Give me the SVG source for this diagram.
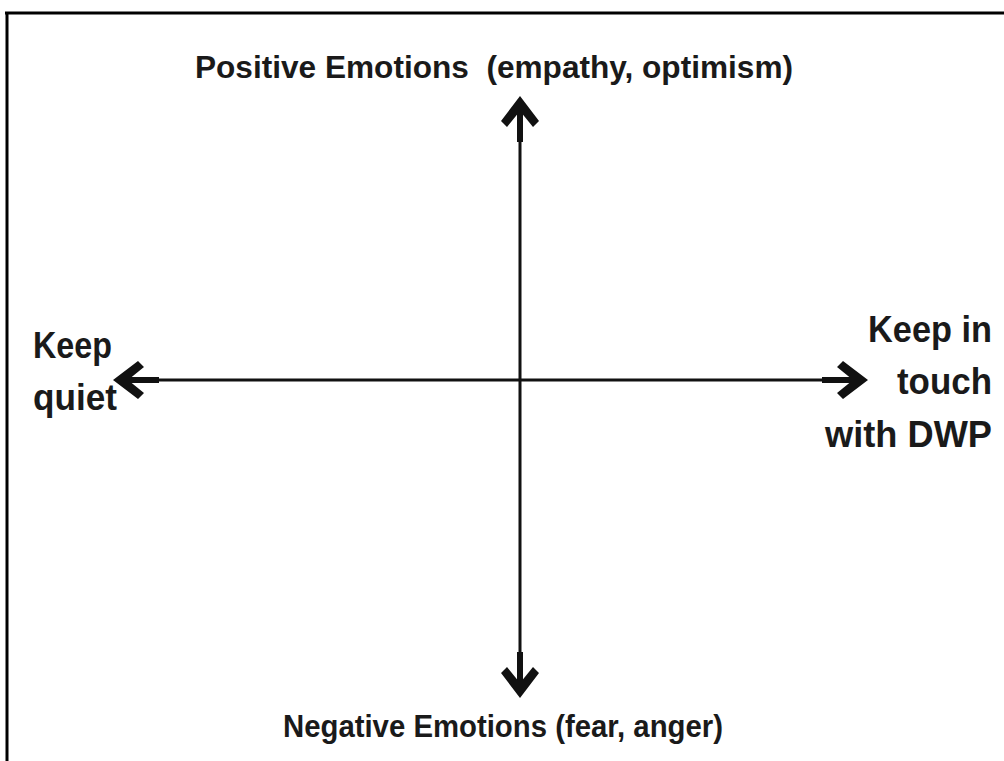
<svg xmlns="http://www.w3.org/2000/svg" width="1004" height="761" viewBox="0 0 1004 761">
<style>
.lbl{font-family:"Liberation Sans",Arial,sans-serif;font-weight:bold;fill:#1a1a1a}
.big{font-size:37px}
.med{font-size:31px}
.axis{stroke:#111;stroke-width:3;fill:none}
.frame{stroke:#000;stroke-width:3;fill:none}
</style>
<defs>
<g id="head">
<path d="M0,0 L19,25 L13,31 L0,15 L-13,31 L-19,25 Z" fill="#111"/>
<rect x="-3" y="10" width="6" height="36" fill="#111"/>
</g>
</defs>
<rect width="1004" height="761" fill="#fff"/>
<g id="frame">
<line class="frame" x1="5" y1="13" x2="1004" y2="13"/>
<line class="frame" x1="7" y1="12" x2="7" y2="761"/>
</g>
<g id="connectors">
<line class="axis" x1="520" y1="105" x2="520" y2="690"/>
<line class="axis" x1="120" y1="380" x2="860" y2="380"/>
<use href="#head" transform="translate(520,96)"/>
<use href="#head" transform="translate(520,698) rotate(180)"/>
<use href="#head" transform="translate(113,380) rotate(-90)"/>
<use href="#head" transform="translate(868,380) rotate(90)"/>
</g>
<g id="node-positive">
<text class="lbl med" x="195" y="78" textLength="598" lengthAdjust="spacingAndGlyphs" xml:space="preserve">Positive Emotions  (empathy, optimism)</text>
</g>
<g id="node-negative">
<text class="lbl med" x="283" y="737" textLength="440" lengthAdjust="spacingAndGlyphs">Negative Emotions (fear, anger)</text>
</g>
<g id="node-quiet">
<text class="lbl big" x="33" y="358" textLength="79" lengthAdjust="spacingAndGlyphs">Keep</text>
<text class="lbl big" x="33" y="410" textLength="84" lengthAdjust="spacingAndGlyphs">quiet</text>
</g>
<g id="node-touch">
<text class="lbl big" x="868" y="342" textLength="124" lengthAdjust="spacingAndGlyphs">Keep in</text>
<text class="lbl big" x="897" y="394" textLength="95" lengthAdjust="spacingAndGlyphs">touch</text>
<text class="lbl big" x="825" y="447" textLength="167" lengthAdjust="spacingAndGlyphs">with DWP</text>
</g>
</svg>
